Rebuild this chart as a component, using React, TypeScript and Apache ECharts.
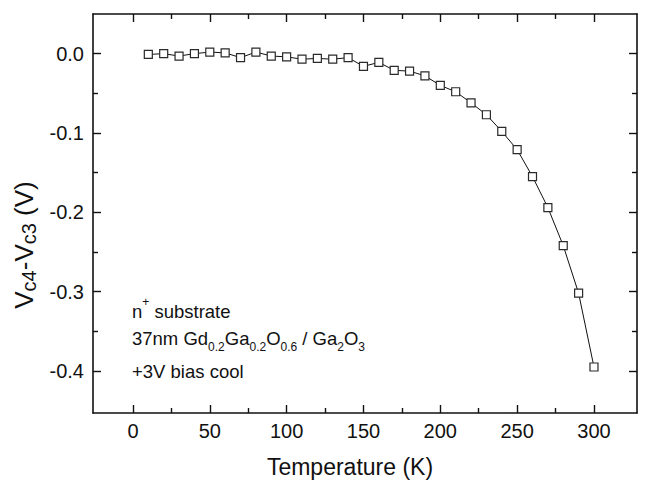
import React, { useEffect, useRef } from "react";
import * as echarts from "echarts";

// ---- data ----
const temperatures = [10, 20, 30, 40, 50, 60, 70, 80, 90, 100, 110, 120, 130, 140, 150, 160, 170, 180, 190, 200, 210, 220, 230, 240, 250, 260, 270, 280, 290, 300];
const voltageDiff = [-0.001, 0.0, -0.003, 0.0, 0.002, 0.001, -0.005, 0.002, -0.003, -0.004, -0.007, -0.006, -0.007, -0.005, -0.016, -0.011, -0.021, -0.022, -0.028, -0.04, -0.048, -0.062, -0.077, -0.098, -0.121, -0.155, -0.194, -0.242, -0.302, -0.395];

const xMajorTicks = [0, 50, 100, 150, 200, 250, 300];
const xMinorTicks = [25, 75, 125, 175, 225, 275];
const yMajorTicks = [0, -0.1, -0.2, -0.3, -0.4];
const yMinorTicks = [-0.05, -0.15, -0.25, -0.35];
const xRange = [-26, 328];
const yRange = [-0.453, 0.05];

const xTitle = "Temperature (K)";
const yTitleRich = "{m|V}{s|c4}{m|-V}{s|c3}{m| (V)}";
const annotationRich = [
  "{m|n}{p|+}{m| substrate}",
  "{m|37nm Gd}{s|0.2}{m|Ga}{s|0.2}{m|O}{s|0.6}{m| / Ga}{s|2}{m|O}{s|3}",
  "{m|+3V bias cool}",
];

const FONT = '"Liberation Sans", Arial, Helvetica, sans-serif';
const INK = "#111";

function richStyles(size: number, sub: number, subH: number) {
  return {
    m: { fontSize: size, fontFamily: FONT, fill: INK, color: INK, lineHeight: 30, verticalAlign: "middle" },
    s: { fontSize: sub, fontFamily: FONT, fill: INK, color: INK, lineHeight: subH, verticalAlign: "bottom" },
    p: { fontSize: sub, fontFamily: FONT, fill: INK, color: INK, lineHeight: subH, verticalAlign: "top" },
  };
}

export default function App() {
  const ref = useRef<HTMLDivElement>(null);
  useEffect(() => {
    if (!ref.current) return;
    const chart = echarts.init(ref.current, null, { renderer: "svg" });
    const lineStyle = { color: INK, width: 1.6 };
    const gridBox = { left: 93, top: 14, width: 544, height: 399, containLabel: false };

    const xAxisBase = (gridIndex: number, position: string, ticks: number[], len: number, showLine: boolean, showLabel: boolean) => ({
      type: "value",
      gridIndex,
      position,
      min: xRange[0],
      max: xRange[1],
      axisLine: { show: showLine, onZero: false, lineStyle },
      axisTick: { show: true, inside: true, length: len, customValues: ticks, lineStyle: { color: INK, width: 1.4 } },
      axisLabel: {
        show: showLabel,
        customValues: ticks,
        fontSize: 20,
        fontFamily: FONT,
        color: INK,
        margin: 8,
        formatter: (v: number) => String(Math.round(v)),
      },
      splitLine: { show: false },
    });
    const yAxisBase = (gridIndex: number, position: string, ticks: number[], len: number, showLine: boolean, showLabel: boolean) => ({
      type: "value",
      gridIndex,
      position,
      min: yRange[0],
      max: yRange[1],
      axisLine: { show: showLine, onZero: false, lineStyle },
      axisTick: { show: true, inside: true, length: len, customValues: ticks, lineStyle: { color: INK, width: 1.4 } },
      axisLabel: {
        show: showLabel,
        customValues: ticks,
        fontSize: 20,
        fontFamily: FONT,
        color: INK,
        margin: 9,
        formatter: (v: number) => {
          const s = v.toFixed(1);
          return s === "-0.0" ? "0.0" : s;
        },
      },
      splitLine: { show: false },
    });

    chart.setOption({
      animation: false,
      backgroundColor: "#fff",
      grid: [gridBox, gridBox],
      xAxis: [
        xAxisBase(0, "bottom", xMajorTicks, 8, true, true),
        xAxisBase(0, "top", xMajorTicks, 8, true, false),
        xAxisBase(1, "bottom", xMinorTicks, 5, false, false),
        xAxisBase(1, "top", xMinorTicks, 5, false, false),
      ],
      yAxis: [
        yAxisBase(0, "left", yMajorTicks, 8, true, true),
        yAxisBase(0, "right", yMajorTicks, 8, true, false),
        yAxisBase(1, "left", yMinorTicks, 5, false, false),
        yAxisBase(1, "right", yMinorTicks, 5, false, false),
      ],
      series: [
        {
          type: "line",
          xAxisIndex: 0,
          yAxisIndex: 0,
          data: temperatures.map((t, i) => [t, voltageDiff[i]]),
          symbol: "rect",
          symbolSize: 8,
          itemStyle: { color: "#fff", borderColor: "#2a2a2a", borderWidth: 1.2 },
          lineStyle: { color: INK, width: 1 },
        },
      ],
      graphic: [
        {
          type: "text",
          x: 350,
          y: 467,
          style: {
            text: xTitle,
            font: `23px ${FONT}`,
            fontSize: 23,
            fontFamily: FONT,
            fill: INK,
            align: "center",
            textAlign: "center",
            verticalAlign: "middle",
            textVerticalAlign: "middle",
          },
        },
        {
          type: "text",
          x: 24,
          y: 245,
          rotation: Math.PI / 2,
          style: {
            text: yTitleRich,
            rich: richStyles(26, 20, 18),
            fill: INK,
            align: "center",
            textAlign: "center",
            verticalAlign: "middle",
            textVerticalAlign: "middle",
          },
        },
        ...annotationRich.map((t, i) => ({
          type: "text",
          x: 132,
          y: [311, 338, 371][i],
          style: {
            text: t,
            rich: richStyles(18.5, 12, 13),
            fill: INK,
            align: "left",
            textAlign: "left",
            verticalAlign: "middle",
            textVerticalAlign: "middle",
          },
        })),
      ],
    });
    return () => chart.dispose();
  }, []);
  return (
    <div
      ref={ref}
      style={{ position: "fixed", left: 0, top: 0, width: 653, height: 484, background: "#fff" }}
    />
  );
}
